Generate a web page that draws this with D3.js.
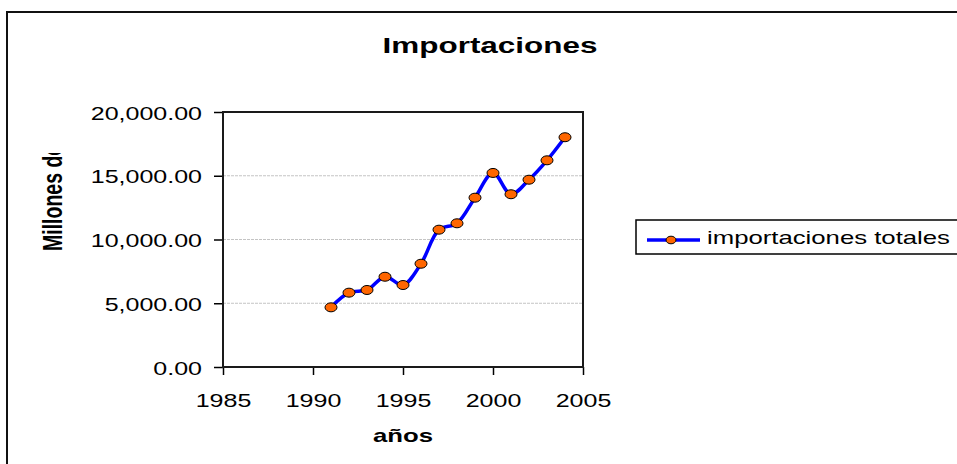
<!DOCTYPE html>
<html>
<head>
<meta charset="utf-8">
<script src="https://cdn.jsdelivr.net/npm/d3@7"></script>
<style>
  html, body { margin: 0; padding: 0; background: #fff; overflow: hidden; }
  svg { display: block; font-family: "Liberation Sans", Arial, sans-serif; }
</style>
</head>
<body>
<svg id="chart" width="957" height="464"></svg>
<script>
// Total imports, millions, by year
const years  = [1991, 1992, 1993, 1994, 1995, 1996, 1997, 1998, 1999, 2000, 2001, 2002, 2003, 2004];
const values = [4680, 5830, 6040, 7080, 6430, 8100, 10770, 11270, 13280, 15220, 13550, 14690, 16210, 18020];

const xTicks = [1985, 1990, 1995, 2000, 2005];
const yTicks = [0, 5000, 10000, 15000, 20000];

const titleText  = "Importaciones";
const xTitle     = "años";
const yTitle     = "Millones de US$";
const seriesName = "importaciones totales";

// text in this chart is drawn wide: glyphs stretched horizontally
const SX = 1.43;

const svg = d3.select("#chart");

const plot = { left: 223, right: 583, top: 112, bottom: 367 };

const x = d3.scaleLinear().domain([1985, 2005]).range([plot.left, plot.right]);
const y = d3.scaleLinear().domain([0, 20000]).range([plot.bottom, plot.top]);

// outer chart frame (runs past the right and bottom edges)
svg.append("rect")
  .attr("x", 7).attr("y", 12)
  .attr("width", 1100).attr("height", 600)
  .attr("fill", "#fff")
  .attr("stroke", "#111").attr("stroke-width", 2);

function wideText(px, py, str, opts = {}) {
  const g = svg.append("g")
    .attr("transform", `translate(${px},${py}) scale(${SX},1)`);
  return g.append("text")
    .attr("text-anchor", opts.anchor || "start")
    .attr("font-size", opts.size || 18)
    .attr("font-weight", opts.weight || "normal")
    .attr("fill", "#000")
    .text(str);
}

// title
wideText(490, 52.5, titleText, { anchor: "middle", size: 22, weight: "bold" });

// horizontal gridlines
svg.append("g")
  .selectAll("line")
  .data(yTicks.filter(v => v > 0 && v < 20000))
  .join("line")
  .attr("x1", plot.left).attr("x2", plot.right)
  .attr("y1", d => y(d)).attr("y2", d => y(d))
  .attr("stroke", "#c4c4c4").attr("stroke-width", 1)
  .attr("stroke-dasharray", "3,1");

// y axis
const yAxis = svg.append("g")
  .attr("transform", `translate(${plot.left},0)`)
  .call(d3.axisLeft(y).tickValues(yTicks).tickFormat(d3.format(",.2f")).tickSize(9).tickSizeOuter(0));
yAxis.select(".domain").remove();
yAxis.selectAll(".tick line").attr("stroke", "#000").attr("stroke-width", 1.5);
yAxis.selectAll(".tick text")
  .attr("font-family", "Liberation Sans, Arial, sans-serif")
  .attr("font-size", 17.5)
  .attr("fill", "#000")
  .attr("transform", `scale(${SX},1)`)
  .attr("x", -21 / SX)
  .attr("dy", 7);

// x axis
const xAxis = svg.append("g")
  .attr("transform", `translate(0,${plot.bottom})`)
  .call(d3.axisBottom(x).tickValues(xTicks).tickFormat(d3.format("d")).tickSize(8).tickSizeOuter(0));
xAxis.select(".domain").remove();
xAxis.selectAll(".tick line").attr("stroke", "#000").attr("stroke-width", 1.5);
xAxis.selectAll(".tick text")
  .attr("font-family", "Liberation Sans, Arial, sans-serif")
  .attr("font-size", 17.5)
  .attr("fill", "#000")
  .attr("transform", `scale(${SX},1)`)
  .attr("y", 40)
  .attr("dy", null);

// plot frame
svg.append("rect")
  .attr("x", plot.left).attr("y", plot.top)
  .attr("width", plot.right - plot.left).attr("height", plot.bottom - plot.top)
  .attr("fill", "none")
  .attr("stroke", "#1a1a1a").attr("stroke-width", 2);

// axis titles
wideText(403, 441.5, xTitle, { anchor: "middle", size: 18, weight: "bold" });

svg.append("clipPath").attr("id", "ytitle-clip")
  .append("rect").attr("x", 0).attr("y", 153).attr("width", 120).attr("height", 200);
svg.append("g")
  .attr("clip-path", "url(#ytitle-clip)")
  .append("g")
  .attr("transform", `translate(62,251) scale(${SX},1) rotate(-90)`)
  .append("text")
  .attr("font-size", 19.5)
  .attr("font-weight", "bold")
  .attr("fill", "#000")
  .text(yTitle);

// series
const data = years.map((yr, i) => ({ year: yr, value: values[i] }));

const line = d3.line()
  .x(d => x(d.year))
  .y(d => y(d.value))
  .curve(d3.curveCatmullRom.alpha(0.5));

svg.append("path")
  .datum(data)
  .attr("d", line)
  .attr("fill", "none")
  .attr("stroke", "#0000ff")
  .attr("stroke-width", 3.5)
  .attr("stroke-linejoin", "round");

svg.append("g")
  .selectAll("ellipse")
  .data(data)
  .join("ellipse")
  .attr("cx", d => x(d.year))
  .attr("cy", d => y(d.value))
  .attr("rx", 6).attr("ry", 4.5)
  .attr("fill", "#ff6600")
  .attr("stroke", "#000").attr("stroke-width", 1);

// legend
const legend = svg.append("g");
legend.append("rect")
  .attr("x", 636).attr("y", 220)
  .attr("width", 400).attr("height", 34)
  .attr("fill", "#fff")
  .attr("stroke", "#000").attr("stroke-width", 1.5);
legend.append("line")
  .attr("x1", 647).attr("x2", 700)
  .attr("y1", 240).attr("y2", 240)
  .attr("stroke", "#0000ff").attr("stroke-width", 3.5);
legend.append("ellipse")
  .attr("cx", 671).attr("cy", 240)
  .attr("rx", 5).attr("ry", 3.8)
  .attr("fill", "#ff6600")
  .attr("stroke", "#000").attr("stroke-width", 1);
wideText(707, 244, seriesName, { size: 18 });
</script>
</body>
</html>
